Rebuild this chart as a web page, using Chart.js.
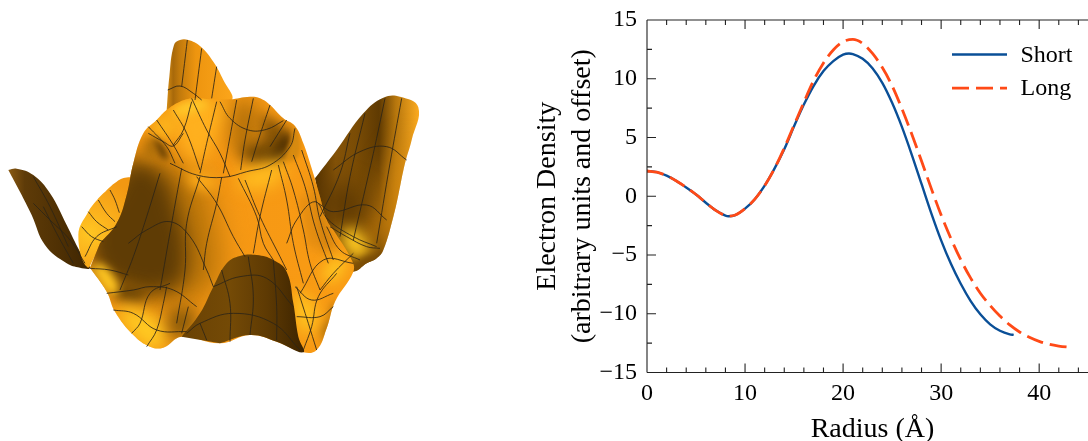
<!DOCTYPE html>
<html><head><meta charset="utf-8">
<style>
html,body{margin:0;padding:0;background:#fff;overflow:hidden;width:1088px;height:441px}
canvas{position:absolute;top:0}
#surf{left:0}
#plot{left:530px}
</style>
<script src="https://cdn.jsdelivr.net/npm/chart.js@4"></script>
</head><body>
<canvas id="surf" width="530" height="441"></canvas>
<canvas id="plot" width="568" height="446"></canvas>
<script>
// ---------- line plot data ----------
const radiusShort=[0,1,2,3,4,5,6,7,8,8.3,9,10,11,12,13,14,15,16,17,18,19,20,20.6,21,22,23,24,25,26,27,28,29,30,31,32,33,34,35,36,37,37.4];
const densityShort=[2.15,2.05,1.75,1.3,0.75,0.15,-0.55,-1.2,-1.65,-1.7,-1.6,-1.05,-0.25,0.9,2.35,4,5.95,7.8,9.4,10.65,11.5,12.05,12.15,12.1,11.7,10.9,9.65,7.95,5.9,3.55,1.05,-1.45,-3.75,-5.75,-7.45,-8.9,-10.05,-10.9,-11.45,-11.75,-11.8];
const radiusLong=[0,1,2,3,4,5,6,7,8,8.3,9,10,11,12,13,14,15,16,17,18,19,20,21,22,23,24,25,26,27,28,29,30,31,32,33,34,35,36,37,38,39,40,41,42,43.2];
const densityLong=[2.15,2.05,1.75,1.3,0.75,0.15,-0.55,-1.2,-1.65,-1.7,-1.6,-1.05,-0.25,0.9,2.35,4.1,6.05,8,9.85,11.35,12.45,13.15,13.35,13,12.15,10.95,9.4,7.45,5.3,3,0.65,-1.6,-3.6,-5.4,-6.95,-8.25,-9.3,-10.2,-10.95,-11.55,-12,-12.35,-12.6,-12.75,-12.85];
const seriesNames=['Short','Long'];
const seriesColors=['#0a4f97','#ff4a17'];
const yTitle=['Electron Density','(arbitrary units and offset)'];
const xTitle='Radius (Å)';

// ---------- surface illustration outlines (reference crop units) ----------
const backPeak=[[500,240],[508,140],[522,45],[540,30],[565,30],[600,48],[640,95],[670,150],[695,210],[600,215],[500,245]];
const rightWing=[[945,445],[1010,360],[1090,250],[1150,203],[1200,200],[1255,232],[1235,330],[1215,400],[1195,495],[1180,560],[1150,660],[1130,685],[1100,700],[1060,725],[1030,700],[990,600],[960,520]];
const leftWing=[[25,420],[50,416],[100,435],[150,490],[200,585],[240,665],[270,713],[240,713],[200,700],[135,645],[95,555],[65,495]];
const leftBack=[[310,490],[350,455],[385,442],[430,450],[430,650],[300,665],[262,712],[235,615],[265,545],[295,505]];
const body=[[270,713],[320,785],[345,845],[400,915],[450,950],[490,953],[545,920],[660,940],[750,915],[830,935],[910,967],[950,960],[980,895],[1005,815],[1060,725],[1055,690],[1000,600],[980,570],[960,500],[935,415],[910,340],[885,288],[850,265],[810,225],[780,205],[750,200],[690,208],[640,208],[580,205],[540,215],[500,240],[470,270],[430,310],[400,400],[380,495],[350,580],[300,640]];
const frontArch=[[545,920],[600,850],[640,770],[680,700],[720,678],[770,675],[820,690],[860,725],[880,820],[895,920],[910,967],[830,935],[750,915],[660,940]];

const wingDark=[[960,470],[1040,470],[1100,520],[1060,580],[990,570]];
const wingOrange=[[1180,400],[1240,330],[1220,400],[1150,660],[1100,640],[1140,500]];
const lobeGlow=[[1020,610],[1060,595],[1105,650],[1090,685],[1040,670]];
const lobeFoot=[[1060,700],[1120,675],[1140,700],[1070,735]];
const flankMid=[[360,380],[570,420],[650,600],[630,780],[400,800],[300,600]];
const flankDark=[[380,390],[480,425],[540,560],[560,700],[530,770],[400,780],[280,700],[280,560],[340,480]];
const valleyDark=[[340,760],[430,780],[430,810],[350,810]];
const valleyGlow=[[345,840],[400,920],[470,960],[500,900],[440,850],[380,830]];
const valleyShade=[[500,850],[560,830],[590,870],[545,930],[510,920]];
const notchGlow=[[275,715],[330,790],[355,780],[330,725],[300,700]];
const frontGlowA=[[880,790],[920,800],[950,860],[930,910],[895,890]];
const frontGlowB=[[960,740],[1010,680],[1040,700],[1000,760]];
const frontEdge=[[960,900],[990,860],[1000,820],[1020,830],[980,950]];
const bodyStripeA=[[940,420],[960,500],[990,600],[1000,660],[960,650],[935,530]];
const bodyStripeB=[[900,500],[920,500],[950,650],[930,650]];
const wallBack=[[500,250],[600,215],[680,220],[650,320],[590,400],[540,340]];
const rimTop=[[510,240],[560,215],[620,212],[620,232],[530,262]];
const wallCenter=[[700,215],[760,215],[770,330],[720,370],[690,340]];
const wallLow=[[715,350],[770,340],[810,330],[830,395],[745,405]];
const wallRight=[[780,250],[850,285],[875,310],[860,370],[810,390],[790,330]];
const wallDeep=[[845,320],[870,310],[860,365],[815,395],[805,380]];
const lipGlow=[[720,425],[810,400],[850,385],[840,450],[760,480],[720,470]];
const lipLeft=[[560,420],[640,440],[640,480],[570,470]];
const lipRight=[[880,290],[900,340],[890,385],[860,385],[875,330]];
const foldDark=[[455,320],[490,345],[505,390],[480,380]];
const foldMid=[[435,320],[465,330],[470,385],[430,385]];
const shoulderGlow=[[440,300],[500,250],[530,300],[480,330]];

// ---------- surface mesh lines ----------
const meshLines=[
[[562,30],[545,170]],[[605,55],[585,210]],[[650,110],[635,205]],[[503,180],[540,168],[580,190],[605,210]],
[[100,440],[150,530],[205,650]],[[130,530],[170,610],[220,700]],[[100,520],[150,570],[210,630],[255,700]],
[[330,480],[345,510],[358,548]],[[295,510],[320,550],[345,575]],[[265,545],[290,575],[325,600]],[[245,590],[275,620],[310,635]],[[255,680],[290,620],[350,590]],
[[575,205],[620,300],[660,370],[690,440]],[[520,240],[560,310],[600,420]],[[470,270],[520,345],[550,400]],[[445,290],[500,350],[525,400]],
[[575,215],[550,300],[520,345]],[[650,215],[620,340],[600,430]],[[710,210],[690,320],[670,430]],[[760,205],[735,330],[722,420]],[[810,225],[775,330],[755,395]],[[860,270],[810,350]],
[[660,215],[690,265],[745,300],[800,298],[850,272]],[[445,310],[490,335],[520,348],[550,310]],[[510,400],[590,435],[670,442],[740,425],[810,405],[870,350],[885,295]],
[[480,430],[440,560],[400,680],[360,780]],[[545,415],[515,580],[480,780]],[[600,440],[560,580],[555,720],[530,880]],
[[590,440],[650,520],[700,620],[735,680]],[[715,445],[770,560],[790,640],[820,690]],[[665,442],[650,520],[620,640],[610,720]],[[735,450],[780,560],[840,680],[860,720]],[[815,420],[780,560],[760,670]],
[[850,395],[880,480],[910,600],[930,700],[960,780]],[[880,375],[915,470],[945,590],[985,700]],[[905,360],[940,470],[960,570],[1000,690]],[[835,405],[860,510],[880,640],[910,760]],
[[385,640],[440,600],[510,575],[570,620],[620,720],[640,770]],[[860,640],[890,570],[945,515],[985,570],[1060,620],[1130,650]],
[[955,520],[1000,545],[1100,525],[1160,570]],[[1000,420],[1080,365],[1160,350],[1220,390]],
[[1205,205],[1170,400],[1130,640]],[[1155,205],[1120,370],[1060,630]],[[1095,250],[1050,440],[1020,620]],[[1050,310],[1020,430],[960,560]],
[[990,590],[1040,620],[1100,650],[1140,655]],[[980,590],[1020,660],[1080,690]],
[[320,790],[400,780],[450,770],[520,780],[590,830]],[[340,840],[400,850],[470,900],[560,905]],[[270,715],[330,720],[385,735]],
[[395,910],[420,880],[450,790],[510,760]],[[440,950],[470,900],[490,820],[500,770]],[[545,910],[565,830]],
[[640,770],[720,740],[800,745],[880,830]],[[560,910],[600,880],[700,850],[820,880],[900,960]],[[745,680],[760,800],[750,915]],[[820,690],[830,830],[830,930]],[[665,720],[690,820],[690,935]],[[600,880],[620,930]],
[[885,770],[935,810],[1000,790]],[[890,860],[960,860],[1000,830]],[[900,790],[970,690],[1060,700]],[[960,780],[1000,730],[1060,670]],[[910,960],[935,890],[955,800],[1010,730]],[[890,770],[925,880],[950,960]]
];

// ---------- surface paint table: [outline, paint, blur px, clip outline], back to front ----------
const patches=[
 [backPeak,['h',500,695,[[0,'#d68d14'],[.1,'#a8690a'],[.2,'#c27a0c'],[.45,'#ee950f'],[1,'#fba51a']]]],
 [rightWing,['h',945,1255,[[0,'#543200'],[.2,'#835208'],[.4,'#7a4c05'],[.62,'#5f3a02'],[.78,'#b6760d'],[1,'#faa91f']]]],
 [wingOrange,'#e2900f',14,rightWing],
 [wingDark,'#5c3803',12,rightWing],
 [lobeGlow,'#ffc922',7,rightWing],
 [lobeFoot,'#7a4c05',3,rightWing],
 [leftWing,['h',25,270,[[0,'#8a5a12'],[.2,'#5e3b08'],[.6,'#503104'],[1,'#3e2502']]]],
 [leftBack,['r',270,610,170,[[0,'#ffc622'],[.45,'#fbaf1c'],[1,'#f29812']]]],
 [body,['h',270,1130,[[0,'#f29512'],[.35,'#f59714'],[1,'#fa9c14']]]],
 [bodyStripeA,'#cf800e',6,body],
 [bodyStripeB,'#e08a10',4,body],
 [flankMid,'#b87409',14,body],
 [flankDark,'#5f3c05',10,body],
 [valleyDark,'#6a4405',6,body],
 [notchGlow,'#ffc722',4,body],
 [valleyGlow,'#ffc922',8,body],
 [valleyShade,'#8a5a08',8,body],
 [frontEdge,'#a86c0a',5,body],
 [frontGlowA,'#ffc922',8,body],
 [frontGlowB,'#ffc922',7,body],
 [wallBack,'#ffb01e',8,body],
 [rimTop,'#ffc92a',4,body],
 [shoulderGlow,'#fbb21c',6,body],
 [foldMid,'#b0700a',5,body],
 [foldDark,'#6a4204',3,body],
 [wallCenter,'#b06e08',10,body],
 [wallRight,'#8a5606',6,body],
 [wallLow,'#6f4604',7,body],
 [wallDeep,'#4f3002',4,body],
 [lipLeft,'#fbaa1a',6,body],
 [lipGlow,'#ffbd20',8,body],
 [lipRight,'#d68a10',2,body],
 [frontArch,['h',545,910,[[0,'#6a4204'],[.4,'#744a06'],[.7,'#5e3a03'],[1,'#3d2400']]]],
];

function paint(chart,g){
  if(typeof g==='string') return g;
  const {x,y}=chart.scales; const c=chart.ctx; if(!x||!chart.chartArea) return '#f29a15';
  let gr;
  if(g[0]==='h') gr=c.createLinearGradient(x.getPixelForValue(g[1]),0,x.getPixelForValue(g[2]),0);
  else { const px=x.getPixelForValue(g[1]),py=y.getPixelForValue(g[2]),r=Math.abs(x.getPixelForValue(g[3])-x.getPixelForValue(0));
    gr=c.createRadialGradient(px,py,0,px,py,r); }
  g[g.length-1].forEach(s=>gr.addColorStop(s[0],s[1]));
  return gr;
}
// soft shading: clip to the parent outline and blur, ahead of the Filler plugin
const softShade={id:'softShade',
 beforeDatasetDraw(chart,args){
  const d=chart.data.datasets[args.index]; if(!d.blur&&!d.clipTo) return;
  const c=chart.ctx; c.save();
  if(d.clipTo){const pi=chart.data.datasets.findIndex(s=>s.src===d.clipTo);
    c.beginPath();chart.getDatasetMeta(pi).dataset.path(c);c.closePath();c.clip();}
  if(d.blur) c.filter='blur('+d.blur+'px)';
 },
 afterDatasetDraw(chart,args){const d=chart.data.datasets[args.index]; if(d.blur||d.clipTo) chart.ctx.restore();}
};
const filler=Chart.registry.getPlugin('filler');
Chart.unregister(filler);Chart.register(softShade,filler);

const toXY=a=>a.map(p=>({x:p[0],y:p[1]}));
const surfSets=[];
meshLines.slice().reverse().forEach(l=>surfSets.push({data:toXY(l),showLine:true,tension:.4,borderColor:'rgba(45,36,22,.85)',borderWidth:1,pointRadius:0,fill:false}));
patches.slice().reverse().forEach(p=>surfSets.push({src:p[0],blur:p[2]||0,clipTo:p[3]||null,data:toXY(p[0]),showLine:true,tension:.42,borderWidth:0,borderColor:'rgba(0,0,0,0)',pointRadius:0,fill:'shape',backgroundColor:c=>paint(c.chart,p[1])}));
new Chart(document.getElementById('surf'),{type:'scatter',data:{datasets:surfSets},options:{responsive:false,animation:false,
  layout:{padding:0},plugins:{legend:{display:false},tooltip:{enabled:false}},
  scales:{x:{type:'linear',display:false,min:0,max:1590},y:{type:'linear',display:false,reverse:true,min:-90,max:1233}}}});

// ---------- line plot ----------
const FONT='"Liberation Serif","Times New Roman",serif';
const axisFrame={id:'axisFrame',afterDraw(ch){
  const c=ch.ctx,a=ch.chartArea,xs=ch.scales.x,ys=ch.scales.y;
  c.save();c.strokeStyle='#222';c.lineWidth=1.1;c.beginPath();
  c.moveTo(a.left,a.top);c.lineTo(a.right,a.top);c.moveTo(a.left,a.bottom);c.lineTo(a.right,a.bottom);c.moveTo(a.left,a.top);c.lineTo(a.left,a.bottom);
  xs.ticks.forEach(t=>{const p=xs.getPixelForValue(t.value),l=t.value%10===0?9:5;
    c.moveTo(p,a.top);c.lineTo(p,a.top+l);c.moveTo(p,a.bottom);c.lineTo(p,a.bottom-l);});
  ys.ticks.forEach(t=>{const p=ys.getPixelForValue(t.value),l=t.value%5===0?9:5;
    c.moveTo(a.left,p);c.lineTo(a.left+l,p);});
  c.stroke();
  ch.data.datasets.forEach((d,i)=>{const y=54.5+i*33.7;
    c.beginPath();c.strokeStyle=d.borderColor;c.lineWidth=d.borderWidth;c.setLineDash(d.borderDash||[]);
    c.moveTo(422,y);c.lineTo(477,y);c.stroke();c.setLineDash([]);
    c.fillStyle='#000';c.font='24px '+FONT;c.textBaseline='middle';c.textAlign='left';c.fillText(d.label,490.5,y+1);});
  c.restore();
}};
const pairs=(xs,ys)=>xs.map((x,i)=>({x,y:ys[i]}));
new Chart(document.getElementById('plot'),{type:'scatter',plugins:[axisFrame],
 data:{datasets:[
  {label:seriesNames[0],data:pairs(radiusShort,densityShort),showLine:true,cubicInterpolationMode:'monotone',borderColor:seriesColors[0],backgroundColor:seriesColors[0],borderWidth:2.4,pointRadius:0,order:2},
  {label:seriesNames[1],data:pairs(radiusLong,densityLong),showLine:true,cubicInterpolationMode:'monotone',borderColor:seriesColors[1],backgroundColor:seriesColors[1],borderWidth:2.8,borderDash:[17,7],pointRadius:0,order:1}
 ]},
 options:{responsive:false,animation:false,layout:{padding:{top:20,right:0,left:0,bottom:0}},
  plugins:{legend:{display:false},tooltip:{enabled:false}},
  scales:{
   x:{type:'linear',min:0,max:46,grid:{display:false},border:{display:false},
      afterBuildTicks:s=>{s.ticks=[];for(let v=0;v<=46;v+=2)s.ticks.push({value:v});},
      afterFit:s=>{s.height=73.5;},
      ticks:{autoSkip:false,maxRotation:0,padding:-1,color:'#000',font:{family:FONT,size:24},callback:v=>v%10===0?String(v):''},
      title:{display:true,text:xTitle,color:'#000',font:{family:FONT,size:28},padding:{top:0,bottom:0}}},
   y:{type:'linear',min:-15,max:15,grid:{display:false},border:{display:false},
      afterBuildTicks:s=>{s.ticks=[];for(let v=-15;v<=15;v+=2.5)s.ticks.push({value:v});},
      afterFit:s=>{s.width=117;},
      ticks:{autoSkip:false,padding:2,color:'#000',font:{family:FONT,size:24},callback:v=>v%5===0?String(v).replace('-','\u2212'):''},
      title:{display:true,text:yTitle,color:'#000',font:{family:FONT,size:28,lineHeight:1.25},padding:{top:0,bottom:0}}}
  }}});
</script>
</body></html>
